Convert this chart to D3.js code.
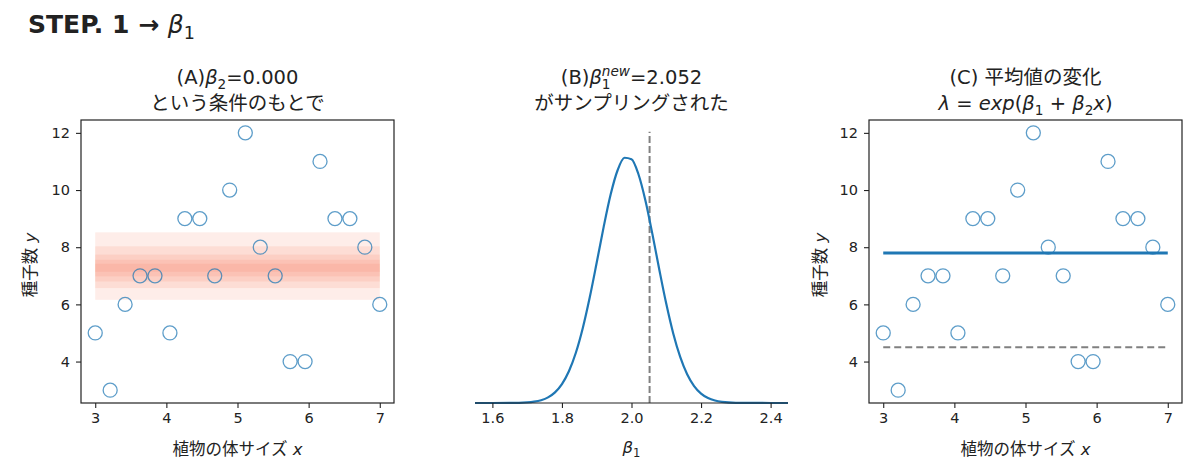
<!DOCTYPE html>
<html>
<head>
<meta charset="utf-8">
<script src="https://cdn.jsdelivr.net/npm/d3@7"></script>
<style>
  body { margin: 0; background: #fff; }
  svg text { font-family: "DejaVu Sans", "Noto Sans CJK JP", sans-serif; fill: #222; }
</style>
</head>
<body>
<svg id="chart" width="1200" height="471"></svg>
<script>
// DATA

// observed plants: body size x and seed count y
const plantX = [3.00, 3.21, 3.42, 3.63, 3.84, 4.05, 4.26, 4.47, 4.68, 4.89,
                5.11, 5.32, 5.53, 5.74, 5.95, 6.16, 6.37, 6.58, 6.79, 7.00];
const plantY = [5, 3, 6, 7, 7, 5, 9, 9, 7, 10, 12, 8, 7, 4, 4, 11, 9, 9, 8, 6];

// panel A: nested bands of lambda (outer -> inner)
const bandLow  = [6.16, 6.57, 6.80, 6.98, 7.14];
const bandHigh = [8.52, 8.03, 7.74, 7.56, 7.42];

// panel B: conditional density of beta1
const betaGrid = [1.55, 1.60, 1.65, 1.70, 1.72, 1.74, 1.76, 1.78, 1.80, 1.82,
                  1.84, 1.86, 1.88, 1.90, 1.92, 1.94, 1.96, 1.98, 2.00, 2.02,
                  2.04, 2.06, 2.08, 2.10, 2.12, 2.14, 2.16, 2.18, 2.20, 2.22,
                  2.24, 2.26, 2.30, 2.35, 2.45];
const betaDens = [0.000, 0.000, 0.001, 0.012, 0.026, 0.055, 0.110, 0.208, 0.370, 0.620,
                  0.980, 1.463, 2.061, 2.739, 3.436, 4.066, 4.540, 4.784, 4.756, 4.462,
                  3.950, 3.299, 2.600, 1.934, 1.357, 0.899, 0.561, 0.331, 0.184, 0.097,
                  0.048, 0.022, 0.004, 0.001, 0.000];
const betaNew = 2.052;
const betaTicks = [1.6, 1.8, 2.0, 2.2, 2.4];

// panel C: new mean and old mean
const lambdaNew = 7.8;
const lambdaOld = 4.5;
const sizeTicks = [3, 4, 5, 6, 7];
const countTicks = [4, 6, 8, 10, 12];

// LAYOUT

var svg = d3.select('#chart');
var plotTop = 120, plotBottom = 403, panelW = 313;
var plotH = plotBottom - plotTop;
var lefts = [81, 475, 869];
var blue = '#1f77b4';
var spineColor = '#222';
var titleSize = 19.5, labelSize = 16.5, tickSize = 14.5;

var xSize = d3.scaleLinear().domain([2.8, 7.2]).range([0, panelW]);
var yCount = d3.scaleLinear().domain([2.55, 12.45]).range([plotH, 0]);
var xBeta = d3.scaleLinear().domain([1.55, 2.45]).range([0, panelW]);
var yDens = d3.scaleLinear().domain([0, 5.52]).range([plotH, 0]);

// writes a text made of pieces: {t, it, sub, sup, back}
function richText(sel, x, y, size, pieces, anchor) {
  var t = sel.append('text')
      .attr('x', x).attr('y', y)
      .attr('font-size', size)
      .attr('text-anchor', anchor || 'middle');
  var shift = 0, lastW = 0;
  pieces.forEach(function(p) {
    var target = p.sub ? size * 0.24 : (p.sup ? -size * 0.42 : 0);
    var ts = t.append('tspan').text(p.t)
        .attr('dy', target - shift);
    shift = target;
    if (p.it) ts.attr('font-style', 'italic');
    if (p.bold) ts.attr('font-weight', 'bold');
    if (p.sub || p.sup) ts.attr('font-size', size * 0.7);
    if (p.back) ts.attr('dx', -lastW);
    lastW = ts.node().getComputedTextLength();
  });
  return t;
}

function styleAxis(g) {
  g.select('.domain').remove();
  g.selectAll('.tick line').attr('stroke', spineColor).attr('stroke-width', 1.1);
  g.selectAll('.tick text')
      .attr('font-size', tickSize)
      .attr('fill', '#222')
      .style('font-family', '"DejaVu Sans", sans-serif');
}

function frame(g) {
  g.append('rect')
      .attr('x', 0).attr('y', 0)
      .attr('width', panelW).attr('height', plotH)
      .attr('fill', 'none')
      .attr('stroke', spineColor)
      .attr('stroke-width', 1.2);
}

function scatterAxes(g) {
  g.append('g')
      .attr('transform', 'translate(0,' + plotH + ')')
      .call(d3.axisBottom(xSize).tickValues(sizeTicks).tickFormat(d3.format('d')).tickSize(5).tickPadding(5))
      .call(styleAxis);
  g.append('g')
      .call(d3.axisLeft(yCount).tickValues(countTicks).tickSize(5).tickPadding(6))
      .call(styleAxis);
}

function points(g) {
  g.selectAll('circle.pt')
    .data(plantX)
    .enter()
    .append('circle')
      .attr('class', 'pt')
      .attr('cx', function(d) { return xSize(d); })
      .attr('cy', function(d, i) { return yCount(plantY[i]); })
      .attr('r', 7)
      .attr('fill', 'none')
      .attr('stroke', blue)
      .attr('stroke-opacity', 0.72)
      .attr('stroke-width', 1.3);
}

function axisLabels(cx, ylabX) {
  richText(svg, cx, 455, labelSize, [{t: '植物の体サイズ '}, {t: 'x', it: true}]);
  svg.append('text')
      .attr('transform', 'translate(' + ylabX + ',265) rotate(-90)')
      .attr('text-anchor', 'middle')
      .attr('font-size', labelSize)
      .html('種子数 <tspan font-style="italic">y</tspan>');
}

// MAIN TITLE
richText(svg, 28, 33, 25, [
  {t: 'STEP. 1 → ', bold: true},
  {t: 'β', it: true},
  {t: '1', sub: true}
], 'start');

// PANEL A
var gA = svg.append('g').attr('transform', 'translate(' + lefts[0] + ',' + plotTop + ')');
bandLow.forEach(function(lo, i) {
  gA.append('rect')
      .attr('x', xSize(3))
      .attr('width', xSize(7) - xSize(3))
      .attr('y', yCount(bandHigh[i]))
      .attr('height', yCount(lo) - yCount(bandHigh[i]))
      .attr('fill', '#f8694a')
      .attr('fill-opacity', 0.12);
});
points(gA);
scatterAxes(gA);
frame(gA);
var cA = lefts[0] + panelW / 2;
richText(svg, cA, 84, titleSize, [{t: '(A)'}, {t: 'β', it: true}, {t: '2', sub: true}, {t: '=0.000'}]);
richText(svg, cA, 110, titleSize, [{t: 'という条件のもとで'}]);
axisLabels(cA, 36);

// PANEL B
var gB = svg.append('g').attr('transform', 'translate(' + lefts[1] + ',' + plotTop + ')');
gB.append('line')
    .attr('x1', xBeta(betaNew)).attr('x2', xBeta(betaNew))
    .attr('y1', yDens(0)).attr('y2', yDens(5.29))
    .attr('stroke', '#808080')
    .attr('stroke-width', 2)
    .attr('stroke-dasharray', '7,3');
var dens = d3.line()
    .x(function(d) { return xBeta(d); })
    .y(function(d, i) { return yDens(betaDens[i]); })
    .curve(d3.curveMonotoneX);
gB.append('path')
    .datum(betaGrid)
    .attr('d', dens)
    .attr('fill', 'none')
    .attr('stroke', blue)
    .attr('stroke-width', 2.2);
gB.append('g')
    .attr('transform', 'translate(0,' + plotH + ')')
    .call(d3.axisBottom(xBeta).tickValues(betaTicks).tickFormat(d3.format('.1f')).tickSize(5).tickPadding(5))
    .call(styleAxis);
gB.append('line')
    .attr('x1', 0).attr('x2', panelW)
    .attr('y1', plotH).attr('y2', plotH)
    .attr('stroke', spineColor)
    .attr('stroke-width', 1.2);
var cB = lefts[1] + panelW / 2;
richText(svg, cB, 84, titleSize, [
  {t: '(B)'}, {t: 'β', it: true}, {t: '1', sub: true},
  {t: 'new', sup: true, it: true, back: true}, {t: '=2.052'}
]);
richText(svg, cB, 110, titleSize, [{t: 'がサンプリングされた'}]);
richText(svg, cB, 453, labelSize, [{t: 'β', it: true}, {t: '1', sub: true}]);

// PANEL C
var gC = svg.append('g').attr('transform', 'translate(' + lefts[2] + ',' + plotTop + ')');
points(gC);
gC.append('line')
    .attr('x1', xSize(3)).attr('x2', xSize(7))
    .attr('y1', yCount(lambdaOld)).attr('y2', yCount(lambdaOld))
    .attr('stroke', '#808080')
    .attr('stroke-width', 2)
    .attr('stroke-dasharray', '7,4');
gC.append('line')
    .attr('x1', xSize(3)).attr('x2', xSize(7))
    .attr('y1', yCount(lambdaNew)).attr('y2', yCount(lambdaNew))
    .attr('stroke', blue)
    .attr('stroke-width', 3);
scatterAxes(gC);
frame(gC);
var cC = lefts[2] + panelW / 2;
richText(svg, cC, 84, titleSize, [{t: '(C) 平均値の変化'}]);
richText(svg, cC, 110, titleSize, [
  {t: 'λ', it: true}, {t: ' = '}, {t: 'exp', it: true}, {t: '('},
  {t: 'β', it: true}, {t: '1', sub: true}, {t: ' + '},
  {t: 'β', it: true}, {t: '2', sub: true}, {t: 'x', it: true}, {t: ')'}
]);
axisLabels(cC, 826);
</script>
</body>
</html>
